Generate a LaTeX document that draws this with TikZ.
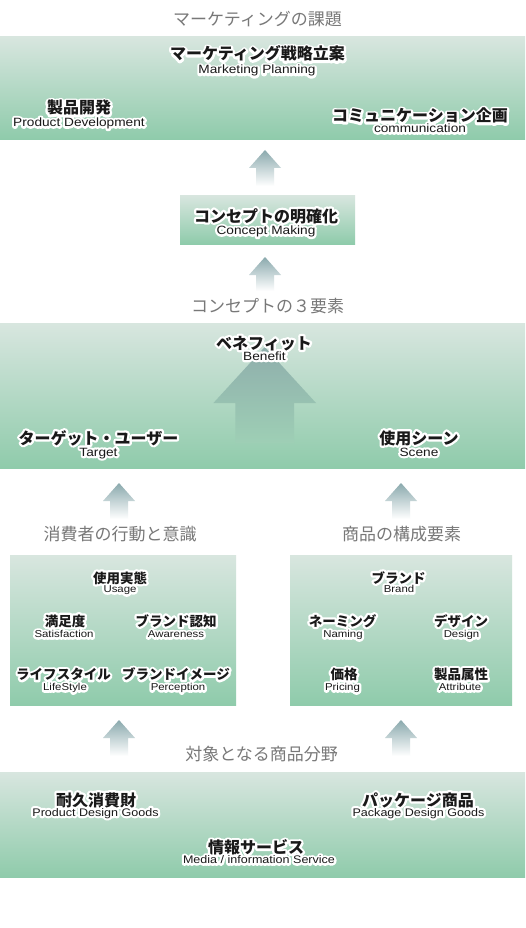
\documentclass[tikz,border=0pt]{standalone}
\usepackage{fontspec}
\newfontfamily\jpf{Noto Sans CJK JP}
\newfontfamily\enf[FakeStretch=1.14]{Liberation Sans}
\usetikzlibrary{positioning}

\definecolor{paneltop}{RGB}{216,230,223}
\definecolor{panelbot}{RGB}{143,203,171}
\definecolor{arrowtop}{RGB}{138,169,173}
\definecolor{bigtop}{RGB}{143,174,172}
\definecolor{bigbot}{RGB}{158,207,181}
\definecolor{titlegray}{RGB}{120,120,120}

% white halo behind a label
\newcommand{\halo}[1]{\leavevmode\rlap{\special{pdf:bcontent}\special{pdf:code 1 Tr 1 1 1 RG 4.5 w 1 j}#1\special{pdf:code 0 Tr}\special{pdf:econtent}}#1}

% small block arrow: x, tip y, bottom y
\newcommand{\blockup}[3]{%
  \shade[top color=arrowtop, middle color=arrowtop!70!white, bottom color=white]
    (#1,#2) -- (#1+16,#2+18) -- (#1+9,#2+18) -- (#1+9,#3)
    -- (#1-9,#3) -- (#1-9,#2+18) -- (#1-16,#2+18) -- cycle;}

\begin{document}
\begin{tikzpicture}[
  x=1pt, y=-1pt,
  panel/.style={
    rectangle, inner sep=0pt, draw=none,
    top color=paneltop, bottom color=panelbot},
  heading/.style={
    anchor=base, inner sep=0pt, text=titlegray,
    font={\jpf\fontsize{17pt}{20pt}\selectfont}},
  jpbig/.style={
    anchor=base, inner sep=0pt, text=black!90,
    font={\jpf\bfseries\fontsize{16pt}{18pt}\selectfont}},
  enbig/.style={
    anchor=base, inner sep=0pt, text=black!90,
    font={\enf\fontsize{12pt}{14pt}\selectfont}},
  enmid/.style={
    anchor=base, inner sep=0pt, text=black!90,
    font={\enf\fontsize{11pt}{13pt}\selectfont}},
  jpsmall/.style={
    anchor=base, inner sep=0pt, text=black!90,
    font={\jpf\bfseries\fontsize{13.5pt}{15pt}\selectfont}},
  ensmall/.style={
    anchor=base, inner sep=0pt, text=black!90,
    font={\enf\fontsize{10pt}{12pt}\selectfont}}
]
\useasboundingbox (0,0) rectangle (525,928);
\fill[white] (0,0) rectangle (525,928);

%% Panels
\node[panel, minimum width=525pt, minimum height=102.6pt] (task)    at (262.5,88)   {};
\node[panel, minimum width=175pt, minimum height=49pt]    (concept) at (267.5,219.5) {};
\node[panel, minimum width=525pt, minimum height=145pt]   (three)   at (262.5,395.5) {};
\node[panel, minimum width=226pt, minimum height=150pt]   (consumer) at (123,630)   {};
\node[panel, minimum width=222pt, minimum height=150pt]   (goods)   at (401,630)    {};
\node[panel, minimum width=525pt, minimum height=105pt]   (field)   at (262.5,824.5) {};

%% Block arrows
\blockup{265}{150}{186}
\blockup{265}{257}{291}
\blockup{119}{483}{519}
\blockup{401}{483}{519}
\blockup{119}{720}{756}
\blockup{401}{720}{756}
\shade[top color=bigtop, bottom color=bigbot]
  (264.7,347) -- (316,403) -- (294,403) -- (294,443)
  -- (235.4,443) -- (235.4,403) -- (213.4,403) -- cycle;

%% Headings
\node[heading] (h-task)     at (257.5,26)  {マーケティングの課題};
\node[heading] (h-three)    at (267.5,312) {コンセプトの３要素};
\node[heading] (h-consumer) at (120,540.5) {消費者の行動と意識};
\node[heading] (h-goods)    at (401.5,540.5) {商品の構成要素};
\node[heading] (h-field)    at (261.5,760.5) {対象となる商品分野};

%% Marketing task
\node[jpbig] (plan)    at (257.5,60)  {\halo{マーケティング戦略立案}};
\node[enbig] (plan-en) at (257,74)    {\halo{Marketing Planning}};
\node[jpbig] (prod)    at (79,114)    {\halo{製品開発}};
\node[enbig] (prod-en) at (79,126.5)  {\halo{Product Development}};
\node[jpbig] (comm)    at (420,122)   {\halo{コミュニケーション企画}};
\node[enbig] (comm-en) at (420,132.5) {\halo{communication}};

%% Concept
\node[jpbig] (making)    at (266,222)   {\halo{コンセプトの明確化}};
\node[enbig] (making-en) at (266,234.5) {\halo{Concept Making}};

%% Three elements
\node[jpbig] (benefit)    at (264,349) {\halo{ベネフィット}};
\node[enbig] (benefit-en) at (264.5,360) {\halo{Benefit}};
\node[jpbig] (target)     at (98.5,444) {\halo{ターゲット・ユーザー}};
\node[enbig] (target-en)  at (98.5,456) {\halo{Target}};
\node[jpbig] (scene)      at (419,444) {\halo{使用シーン}};
\node[enbig] (scene-en)   at (419,456) {\halo{Scene}};

%% Consumer behaviour
\node[jpsmall] (usage)      at (120,583)   {\halo{使用実態}};
\node[ensmall] (usage-en)   at (120,592.5) {\halo{Usage}};
\node[jpsmall] (satis)      at (65,626)    {\halo{満足度}};
\node[ensmall] (satis-en)   at (64,637.5)  {\halo{Satisfaction}};
\node[jpsmall] (aware)      at (176,626)   {\halo{ブランド認知}};
\node[ensmall] (aware-en)   at (176,637.5) {\halo{Awareness}};
\node[jpsmall] (life)       at (63.5,679.5) {\halo{ライフスタイル}};
\node[ensmall] (life-en)    at (65,690.5)  {\halo{LifeStyle}};
\node[jpsmall] (percep)     at (176,679.5) {\halo{ブランドイメージ}};
\node[ensmall] (percep-en)  at (178,690.5) {\halo{Perception}};

%% Product elements
\node[jpsmall] (brand)      at (398.5,583)   {\halo{ブランド}};
\node[ensmall] (brand-en)   at (399,592.5)   {\halo{Brand}};
\node[jpsmall] (naming)     at (342.5,626)   {\halo{ネーミング}};
\node[ensmall] (naming-en)  at (343,637.5)   {\halo{Naming}};
\node[jpsmall] (design)     at (461,626)     {\halo{デザイン}};
\node[ensmall] (design-en)  at (461.5,637.5) {\halo{Design}};
\node[jpsmall] (pricing)    at (344,679.5)   {\halo{価格}};
\node[ensmall] (pricing-en) at (342.5,690.5) {\halo{Pricing}};
\node[jpsmall] (attrib)     at (461,679.5)   {\halo{製品属性}};
\node[ensmall] (attrib-en)  at (460,690.5)   {\halo{Attribute}};

%% Product fields
\node[jpbig] (durable)    at (96,806)    {\halo{耐久消費財}};
\node[enmid] (durable-en) at (95.5,816)  {\halo{Product Design Goods}};
\node[jpbig] (package)    at (418,806)   {\halo{パッケージ商品}};
\node[enmid] (package-en) at (418.5,816) {\halo{Package Design Goods}};
\node[jpbig] (media)      at (256,853.5) {\halo{情報サービス}};
\node[enmid] (media-en)   at (259,863.5) {\halo{Media / information Service}};

\end{tikzpicture}
\end{document}
